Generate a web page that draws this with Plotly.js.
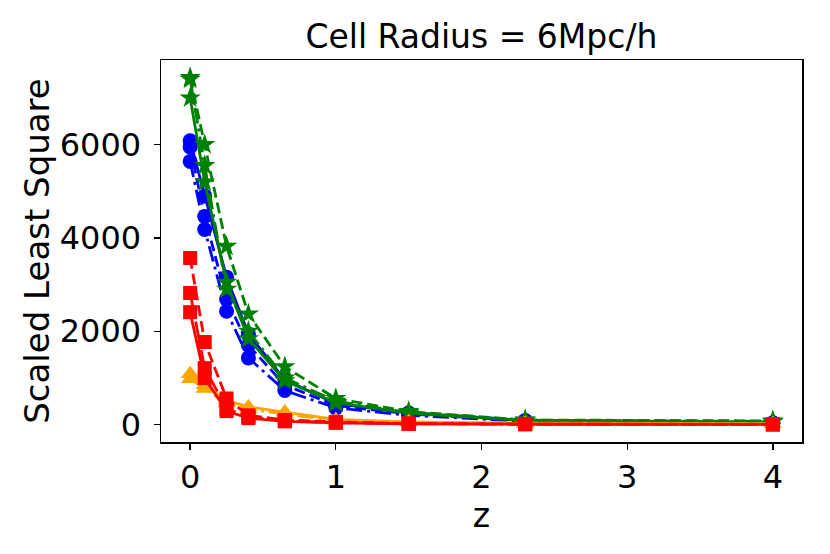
<!DOCTYPE html>
<html>
<head>
<meta charset="utf-8">
<script src="https://cdn.plot.ly/plotly-3.0.1.min.js"></script>
<style>
  html, body { margin: 0; padding: 0; background: #fff; }
  #chart { width: 830px; height: 554px; }
</style>
</head>
<body>
<div id="chart"></div>
<script>
// redshift samples
const z = [0, 0.1, 0.25, 0.4, 0.65, 1, 1.5, 2.3, 4];

// blue circles
const blueSolid   = [6080, 4900, 3160, 1940, 960, 450, 250, 90, 40];
const blueDashDot = [5640, 4180, 2430, 1430, 730, 360, 200, 70, 30];
const blueDashed  = [5950, 4460, 2690, 1700, 850, 410, 230, 80, 35];

// green stars
const greenDashed  = [7440, 6000, 3820, 2370, 1240, 560, 280, 100, 80];
const greenSolid   = [7000, 5200, 3050, 1840, 940, 470, 240, 90, 60];
const greenDashDot = [7400, 5550, 2900, 2000, 1000, 500, 260, 95, 70];

// orange triangles
const orangeSolid   = [1090, 850, 520, 380, 270, 110, 60, 30, 20];
const orangeDashDot = [980, 770, 460, 330, 230, 90, 50, 25, 15];

// red squares
const redDashed  = [3570, 1770, 560, 200, 100, 60, 25, 12, 8];
const redDashDot = [2820, 1210, 350, 160, 80, 45, 20, 10, 5];
const redSolid   = [2410, 1000, 290, 140, 70, 40, 18, 8, 4];

const DASH = '11px,5px';
const DASHDOT = '16px,5px,3px,5px';

function series(y, color, dash, symbol, size) {
    return {
        type: 'scatter', mode: 'lines+markers', x: z, y: y,
        line: { color: color, width: 2.8, dash: dash },
        marker: { color: color, symbol: symbol, size: size, line: { width: 0 } },
        showlegend: false, hoverinfo: 'skip'
    };
}

const traces = [
    series(blueSolid, '#0000ff', 'solid', 'circle', 15),
    series(blueDashed, '#0000ff', DASH, 'circle', 15),
    series(blueDashDot, '#0000ff', DASHDOT, 'circle', 15),
    series(greenSolid, '#008000', 'solid', 'star', 16),
    series(greenDashed, '#008000', DASH, 'star', 16),
    series(greenDashDot, '#008000', DASHDOT, 'star', 16),
    series(orangeSolid, '#ffa500', 'solid', 'triangle-up', 16),
    series(orangeDashDot, '#ffa500', DASHDOT, 'triangle-up', 16),
    series(redSolid, '#ff0000', 'solid', 'square', 14),
    series(redDashDot, '#ff0000', DASHDOT, 'square', 14),
    series(redDashed, '#ff0000', DASH, 'square', 14)
];

const FONT = 'DejaVu Sans, sans-serif';

const layout = {
    width: 830, height: 554,
    margin: { l: 161, r: 28, t: 60, b: 112 },
    paper_bgcolor: '#fff', plot_bgcolor: '#fff',
    font: { family: FONT, size: 32, color: '#000' },
    title: {
        text: 'Cell Radius = 6Mpc/h',
        font: { family: FONT, size: 33, color: '#000' },
        x: 0.58, xanchor: 'center', y: 0.935, yanchor: 'middle'
    },
    xaxis: {
        range: [-0.2, 4.2], tickvals: [0, 1, 2, 3, 4],
        ticks: 'outside', ticklen: 6, tickwidth: 1.3, tickcolor: '#000',
        showgrid: false, zeroline: false,
        showline: true, linecolor: '#000', linewidth: 1.5, mirror: true,
        tickfont: { family: FONT, size: 32, color: '#000' },
        title: { text: 'z', font: { family: FONT, size: 33, color: '#000' }, standoff: 1 }
    },
    yaxis: {
        range: [-372, 7812], tickvals: [0, 2000, 4000, 6000],
        ticks: 'outside', ticklen: 6, tickwidth: 1.3, tickcolor: '#000',
        ticklabelstandoff: 6,
        showgrid: false, zeroline: false,
        showline: true, linecolor: '#000', linewidth: 1.5, mirror: true,
        tickfont: { family: FONT, size: 32, color: '#000' },
        title: { text: 'Scaled Least Square', font: { family: FONT, size: 34, color: '#000' }, standoff: 0 }
    }
};

Plotly.newPlot('chart', traces, layout, { displayModeBar: false, staticPlot: true });
</script>
</body>
</html>
